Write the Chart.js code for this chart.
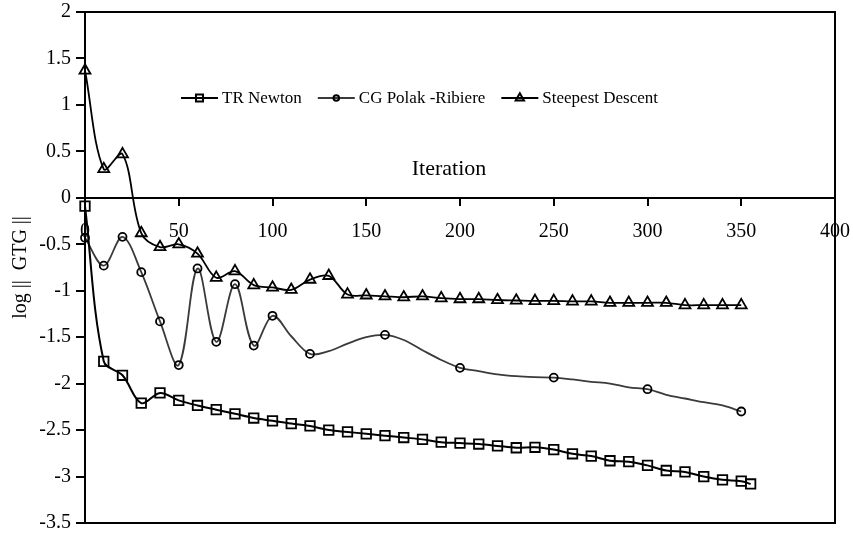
<!DOCTYPE html>
<html>
<head>
<meta charset="utf-8">
<script src="https://cdn.jsdelivr.net/npm/chart.js@4.4.1/dist/chart.umd.min.js"></script>
<style>
  html, body { margin: 0; padding: 0; background: #fff; }
  #chart { display: block; }
</style>
</head>
<body>
<canvas id="chart" width="853" height="540"></canvas>
<script>
// iteration number and log||GTG|| for each method
const iterTR = [0, 10, 20, 30, 40, 50, 60, 70, 80, 90, 100, 110, 120, 130, 140, 150, 160, 170, 180, 190,
  200, 210, 220, 230, 240, 250, 260, 270, 280, 290, 300, 310, 320, 330, 340, 350, 355];
const logTR = [-0.09, -1.76, -1.91, -2.21, -2.10, -2.18, -2.235, -2.28, -2.325, -2.37, -2.40, -2.43, -2.455, -2.50, -2.52, -2.54, -2.56, -2.58, -2.60, -2.63,
  -2.64, -2.65, -2.67, -2.69, -2.685, -2.71, -2.755, -2.78, -2.83, -2.84, -2.88, -2.935, -2.95, -3.00, -3.035, -3.05, -3.08];

const iterCG = [0, 10, 20, 30, 40, 50, 60, 70, 80, 90, 100, 110, 120, 130, 140, 150, 160, 170, 180, 190,
  200, 210, 220, 230, 240, 250, 260, 270, 280, 290, 300, 310, 320, 330, 340, 350];
const logCG = [-0.43, -0.73, -0.42, -0.80, -1.33, -1.80, -0.76, -1.55, -0.93, -1.59, -1.27, -1.49, -1.68, -1.65, -1.57, -1.50, -1.475, -1.53, -1.64, -1.745,
  -1.83, -1.865, -1.90, -1.92, -1.93, -1.935, -1.955, -1.98, -2.00, -2.04, -2.06, -2.12, -2.16, -2.20, -2.235, -2.30];
// only these iterations carry a marker on the CG curve
const cgMarked = [0, 10, 20, 30, 40, 50, 60, 70, 80, 90, 100, 120, 160, 200, 250, 300, 350];

const iterSD = [0, 10, 20, 30, 40, 50, 60, 70, 80, 90, 100, 110, 120, 130, 140, 150, 160, 170, 180, 190,
  200, 210, 220, 230, 240, 250, 260, 270, 280, 290, 300, 310, 320, 330, 340, 350];
const logSD = [1.37, 0.31, 0.47, -0.38, -0.53, -0.50, -0.60, -0.86, -0.79, -0.94, -0.965, -0.99, -0.88, -0.84, -1.04, -1.05, -1.06, -1.07, -1.06, -1.08,
  -1.09, -1.09, -1.10, -1.105, -1.11, -1.11, -1.115, -1.115, -1.13, -1.13, -1.13, -1.13, -1.155, -1.155, -1.155, -1.155];

const serif = "'Liberation Serif', 'Times New Roman', serif";
const toPoints = (xs, ys) => xs.map((x, i) => ({ x: x, y: ys[i] }));

// box around the plot, the "Iteration" label above the x axis and an Excel-like legend
const excelExtras = {
  id: 'excelExtras',
  afterDraw(chart) {
    const { ctx, chartArea: a, scales } = chart;
    ctx.save();
    ctx.strokeStyle = '#000';
    ctx.lineWidth = 2;
    ctx.strokeRect(a.left, a.top, a.right - a.left, a.bottom - a.top);

    ctx.fillStyle = '#000';
    ctx.font = '22px ' + serif;
    ctx.textAlign = 'center';
    ctx.textBaseline = 'middle';
    ctx.fillText('Iteration', (a.left + a.right) / 2 - 11, scales.y.getPixelForValue(0) - 29);

    const markSize = [5, 2.8, 4.8];
    ctx.font = '17px ' + serif;
    ctx.textAlign = 'left';
    let x = a.left + 96;
    const y = a.top + 86;
    chart.data.datasets.forEach((ds, i) => {
      ctx.strokeStyle = ds.borderColor;
      ctx.lineWidth = 2;
      ctx.beginPath();
      ctx.moveTo(x, y);
      ctx.lineTo(x + 37, y);
      ctx.stroke();
      ctx.strokeStyle = '#000';
      ctx.fillStyle = 'rgba(0,0,0,0)';
      Chart.helpers.drawPoint(ctx, { pointStyle: ds.pointStyle, radius: markSize[i], borderWidth: 1.6, rotation: 0 }, x + 18.5, y);
      ctx.fillStyle = '#000';
      ctx.fillText(ds.label, x + 41, y + 1);
      x += 41 + ctx.measureText(ds.label).width + 16;
    });
    ctx.restore();
  }
};

new Chart(document.getElementById('chart'), {
  type: 'line',
  data: {
    datasets: [
      {
        label: 'TR Newton',
        data: toPoints(iterTR, logTR),
        borderColor: '#000',
        borderWidth: 2,
        pointStyle: 'rect',
        pointRadius: 6.7,
        pointBorderColor: '#000',
        pointBackgroundColor: 'rgba(0,0,0,0)',
        pointBorderWidth: 1.8,
        tension: 0.35,
        clip: false
      },
      {
        label: 'CG Polak -Ribiere',
        data: toPoints(iterCG, logCG),
        borderColor: '#3a3a3a',
        borderWidth: 1.8,
        pointStyle: 'circle',
        pointRadius: ctx => cgMarked.includes(iterCG[ctx.dataIndex]) ? 4 : 0,
        pointBorderColor: '#000',
        pointBackgroundColor: 'rgba(0,0,0,0)',
        pointBorderWidth: 1.8,
        tension: 0.35,
        clip: false
      },
      {
        label: 'Steepest Descent',
        data: toPoints(iterSD, logSD),
        borderColor: '#000',
        borderWidth: 1.8,
        pointStyle: 'triangle',
        pointRadius: 6.3,
        pointBorderColor: '#000',
        pointBackgroundColor: 'rgba(0,0,0,0)',
        pointBorderWidth: 1.8,
        tension: 0.35,
        clip: false
      }
    ]
  },
  options: {
    responsive: false,
    animation: false,
    events: [],
    layout: { padding: { top: 12, right: 18, bottom: 17, left: 0 } },
    plugins: {
      legend: { display: false },
      tooltip: { enabled: false }
    },
    scales: {
      x: {
        type: 'linear',
        position: { y: 0 },
        min: 0,
        max: 400,
        ticks: { stepSize: 50, color: '#000', padding: 15, font: { family: serif, size: 20 } },
        grid: { drawOnChartArea: false, tickLength: 7, color: '#000', lineWidth: 2 },
        border: { color: '#000', width: 2 },
        afterFit: s => { s.paddingLeft = 0; s.paddingRight = 0; }
      },
      y: {
        position: 'left',
        min: -3.5,
        max: 2,
        ticks: { stepSize: 0.5, color: '#000', padding: 5, font: { family: serif, size: 20 }, callback: v => String(v) },
        grid: { drawOnChartArea: false, tickLength: 9, color: '#000', lineWidth: 2 },
        border: { color: '#000', width: 2 },
        title: { display: true, text: 'log ||  GTG ||', color: '#000', padding: { top: 9 }, font: { family: serif, size: 20 } },
        afterFit: s => { s.width = 85; s.paddingTop = 0; s.paddingBottom = 0; }
      }
    }
  },
  plugins: [excelExtras]
});
</script>
</body>
</html>
